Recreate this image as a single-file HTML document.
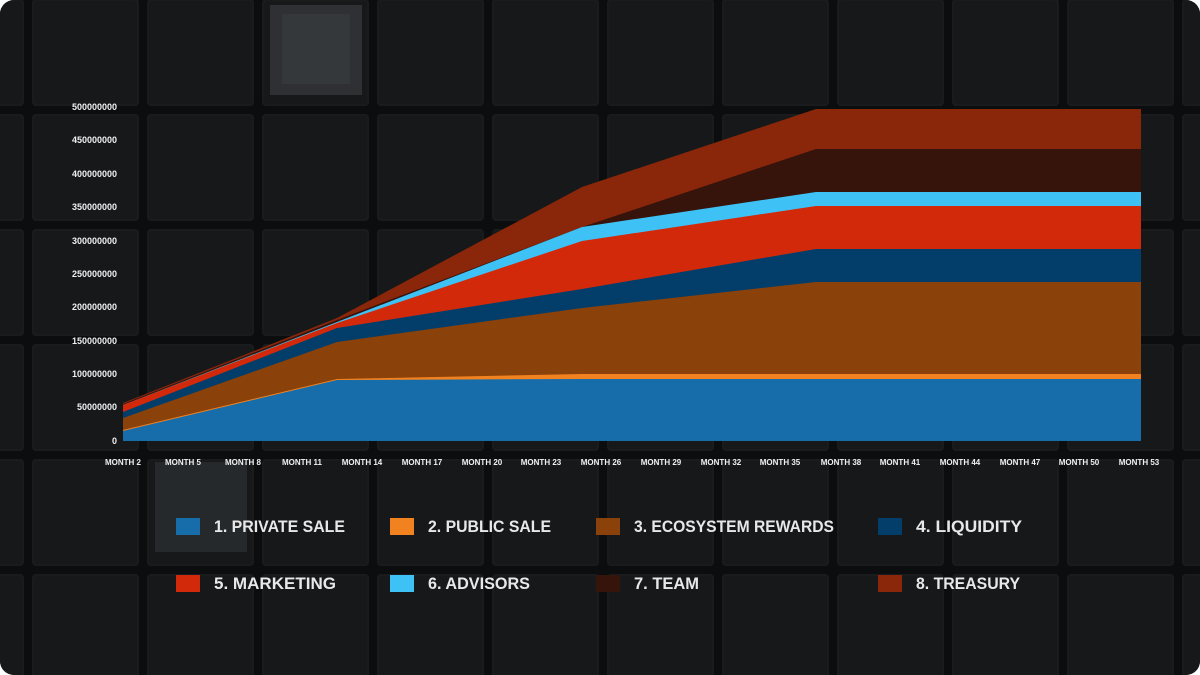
<!DOCTYPE html>
<html><head><meta charset="utf-8"><style>
html,body{margin:0;padding:0;background:#fff;}
.card{position:relative;width:1200px;height:675px;overflow:hidden;border-radius:14px;background:#0f1011;font-family:"Liberation Sans",sans-serif;}
</style></head><body><div class="card">
<svg width="1200" height="675" viewBox="0 0 1200 675" xmlns="http://www.w3.org/2000/svg">
<defs>
<pattern id="tiles" x="28" y="-5" width="115" height="115" patternUnits="userSpaceOnUse">
<rect width="115" height="115" fill="#0c0d0e"/>
<rect x="4" y="4" width="107" height="107" rx="4" fill="#1a1b1d"/>
<rect x="6" y="6" width="103" height="103" rx="3" fill="#17181a"/>
</pattern>
</defs>
<rect width="1200" height="675" fill="url(#tiles)"/>
<rect x="270" y="5" width="92" height="90" fill="#2e3033"/>
<rect x="282" y="14" width="68" height="70" fill="#35383b"/>
<rect x="155" y="462" width="92" height="90" fill="#26292c"/>
<g font-family="'Liberation Sans',sans-serif" font-weight="bold" font-size="9" fill="#f0f0f0" text-anchor="end">
<text x="117" y="110">500000000</text><text x="117" y="143">450000000</text>
<text x="117" y="177">400000000</text><text x="117" y="210">350000000</text>
<text x="117" y="244">300000000</text><text x="117" y="277">250000000</text>
<text x="117" y="310">200000000</text><text x="117" y="344">150000000</text>
<text x="117" y="377">100000000</text><text x="117" y="410">50000000</text>
<text x="117" y="444">0</text>
</g>
<g font-family="'Liberation Sans',sans-serif" font-weight="bold" font-size="8" fill="#f0f0f0" text-anchor="middle">
<text x="123" y="465">MONTH 2</text><text x="183" y="465">MONTH 5</text><text x="243" y="465">MONTH 8</text>
<text x="302" y="465">MONTH 11</text><text x="362" y="465">MONTH 14</text><text x="422" y="465">MONTH 17</text>
<text x="482" y="465">MONTH 20</text><text x="541" y="465">MONTH 23</text><text x="601" y="465">MONTH 26</text>
<text x="661" y="465">MONTH 29</text><text x="721" y="465">MONTH 32</text><text x="780" y="465">MONTH 35</text>
<text x="841" y="465">MONTH 38</text><text x="900" y="465">MONTH 41</text><text x="960" y="465">MONTH 44</text>
<text x="1020" y="465">MONTH 47</text><text x="1079" y="465">MONTH 50</text><text x="1139" y="465">MONTH 53</text>
</g>
<polygon fill="#8a260a" points="123,403 337,318 582,187 816,109 1141,109 1141,441 123,441"/>
<polygon fill="#36140c" points="123,404 337,320 582,227 816,149 1141,149 1141,441 123,441"/>
<polygon fill="#3ec1f5" points="123,405 337,322 582,227 816,192 1141,192 1141,441 123,441"/>
<polygon fill="#d2290b" points="123,405 337,323 582,241 816,206 1141,206 1141,441 123,441"/>
<polygon fill="#033e6b" points="123,412 337,328 582,289 816,249 1141,249 1141,441 123,441"/>
<polygon fill="#8a410a" points="123,418 337,342 582,308 816,282 1141,282 1141,441 123,441"/>
<polygon fill="#f28220" points="123,430 337,379 582,374 816,374 1141,374 1141,441 123,441"/>
<polygon fill="#176daa" points="123,431 337,380 582,379 816,379 1141,379 1141,441 123,441"/>
<g font-family="'Liberation Sans',sans-serif" font-weight="bold" font-size="17" fill="#e8e8e8">
<rect x="176" y="518" width="24" height="17" fill="#176daa"/><text x="214" y="532" textLength="131" lengthAdjust="spacingAndGlyphs">1. PRIVATE SALE</text>
<rect x="390" y="518" width="24" height="17" fill="#f28220"/><text x="428" y="532" textLength="123" lengthAdjust="spacingAndGlyphs">2. PUBLIC SALE</text>
<rect x="596" y="518" width="24" height="17" fill="#8a410a"/><text x="634" y="532" textLength="200" lengthAdjust="spacingAndGlyphs">3. ECOSYSTEM REWARDS</text>
<rect x="878" y="518" width="24" height="17" fill="#033e6b"/><text x="916" y="532" textLength="106" lengthAdjust="spacingAndGlyphs">4. LIQUIDITY</text>
<rect x="176" y="575" width="24" height="17" fill="#d2290b"/><text x="214" y="589" textLength="122" lengthAdjust="spacingAndGlyphs">5. MARKETING</text>
<rect x="390" y="575" width="24" height="17" fill="#3ec1f5"/><text x="428" y="589" textLength="102" lengthAdjust="spacingAndGlyphs">6. ADVISORS</text>
<rect x="596" y="575" width="24" height="17" fill="#36140c"/><text x="634" y="589" textLength="65" lengthAdjust="spacingAndGlyphs">7. TEAM</text>
<rect x="878" y="575" width="24" height="17" fill="#8a260a"/><text x="916" y="589" textLength="104" lengthAdjust="spacingAndGlyphs">8. TREASURY</text>
</g>
</svg>
</div></body></html>
